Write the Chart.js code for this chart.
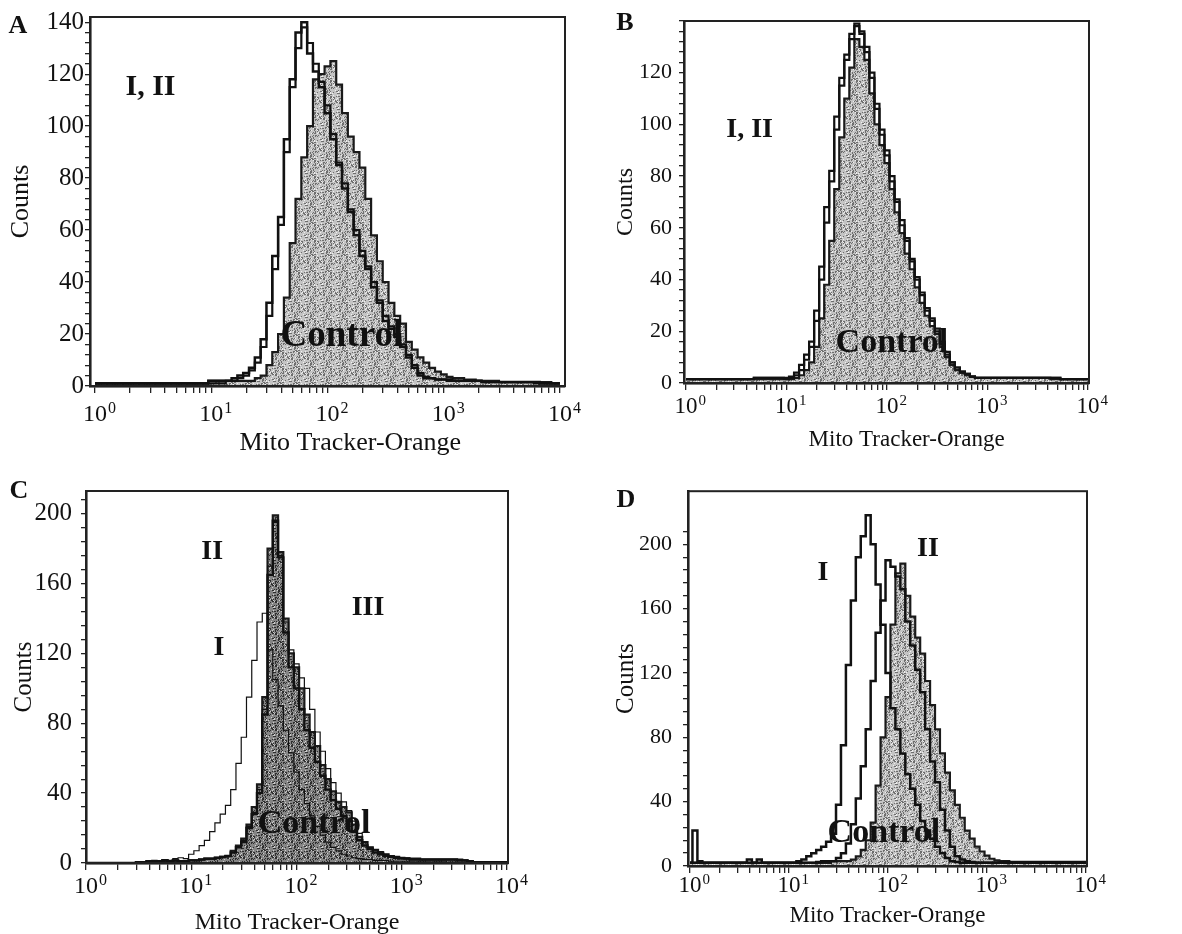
<!DOCTYPE html>
<html>
<head>
<meta charset="utf-8">
<script src="https://cdn.jsdelivr.net/npm/chart.js@4.4.0/dist/chart.umd.min.js"></script>
<style>
  html, body { margin: 0; padding: 0; background: #fff; overflow: hidden; }
  body { width: 1182px; height: 934px; position: relative; }
  canvas { position: absolute; }
</style>
</head>
<body>
<canvas id="chartA" width="590" height="467" style="left:0px;top:0px;width:590px;height:467px"></canvas>
<canvas id="chartB" width="592" height="467" style="left:590px;top:0px;width:592px;height:467px"></canvas>
<canvas id="chartC" width="590" height="480" style="left:0px;top:467px;width:590px;height:480px"></canvas>
<canvas id="chartD" width="592" height="480" style="left:590px;top:467px;width:592px;height:480px"></canvas>
<script>
// channel centres: 20 channels per decade, 10^0 .. 10^4
const channels = [];
for (let k = 0; k <= 80; k++) channels.push(Math.pow(10, k / 20));

// x tick marks 1..9 x 10^n, labels only on decades
const xTicks = [];
for (let d = 0; d < 4; d++) for (let m = 1; m < 10; m++) xTicks.push(m * Math.pow(10, d));
xTicks.push(10000);
const xDecades = [0, 1, 2, 3, 4];

const yTicksAB = [];
for (let v = 0; v <= 140; v += 4) yTicksAB.push(v);
const yTicksCD = [];
for (let v = 0; v <= 208; v += 8) yTicksCD.push(v);
const yLabelsA = [0, 20, 40, 60, 80, 100, 120, 140];
const yLabelsB = [0, 20, 40, 60, 80, 100, 120];
const yLabelsCD = [0, 40, 80, 120, 160, 200];

// ---- counts per channel ----
// panel A
const aI = [1,1,1,1,1,1,1,1,1,1,1,1,1,1,1,1,1,1,1,1,
  2,2,2,2,3,4,5,7,11,18,
  32,50,65,95,118,136,140,128,121,115,
  105,95,85,76,67,58,50,45,38,32,
  25,22,19,15,11,7,4,3,3,2.5,
  2.5,2.5,2,2,2,2,2,1.5,1.5,1.5,
  1.5,1.5,1.5,1.5,1.5,1.5,1.5,1,1,1,1];
const aII = [1,1,1,1,1,1,1,1,1,1,1,1,1,1,1,1,1,1,1,1,
  1,1,1,2,2,3,4,6,9,15,
  27,45,62,90,115,130,138,132,124,117,
  108,97,86,78,68,60,52,46,40,33,
  27,23,20,16,12,8,5,3.5,3,2.5,
  2.5,2,2,2,2,2,2,1.5,1.5,1.5,
  1.5,1.5,1.5,1.5,1.5,1.5,1,1,1,1,1];
const aControl = [1,1,1,1,1,1,1,1,1,1,1,1,1,1,1,1,1,1,1,1,
  2,2,2,2,2,2,2,2,3,4,
  8,13,20,34,55,72,88,100,118,120,
  123,125,116,105,96,90,84,72,58,48,
  40,32,27,24,17,14,11,9,7,5.5,
  4.5,3.5,3,3,2.5,2.5,2,2,2,2,
  1.5,1.5,1.5,1.5,1.5,1.5,1.5,1.5,1.5,1,1];

// panel B
const bI = [1.5,1.5,1.5,1.5,1.5,1.5,1.5,1.5,1.5,1.5,1.5,1.5,1.5,1.5,2,2,2,2,2,2,
  2,2.5,4,7,11,16,28,45,68,82,
  103,118,127,135,139,135,130,118,106,96,
  90,78,70,61,55,47,40,34,28,24,
  21,15,11,8,6,4,3.5,2.5,2,2,
  2,2,2,2,2,2,2,2,2,2,
  2,2,2,2,2,1.5,1.5,1.5,1.5,1.5,1.5];
const bII = [1.5,1.5,1.5,1.5,1.5,1.5,1.5,1.5,1.5,1.5,1.5,1.5,1.5,1.5,2,2,2,2,2,2,
  1.5,2,3,5,9,14,24,40,62,78,
  98,115,125,133,138,136,128,120,108,98,
  88,80,71,63,56,48,41,35,29,25,
  20,16,12,8,6,4.5,3.5,2.5,2,2,
  2,2,2,2,2,2,2,2,2,2,
  2,2,2,2,2,1.5,1.5,1.5,1.5,1.5,1.5];
const bControl = [1.5,1.5,1.5,1.5,1.5,1.5,1.5,1.5,1.5,1.5,1.5,1.5,1.5,1.5,1.5,1.5,1.5,1.5,1.5,1.5,
  1.5,1.5,2,3,5,8,14,25,38,55,
  75,95,110,122,133,130,125,112,100,92,
  85,75,66,58,50,44,37,31,26,22,
  19,14,10,7,5,4,3,2.5,2,2,
  2,2,2,2,2,2,2,2,2,2,
  2,2,2,1.5,1.5,1.5,1.5,1.5,1.5,1.5,1.5];

// panel C
const cI = [0,0,0,0,0,0,0,0,0,0,
  0.5,0.5,1,1.5,1,2,1.5,2.5,3,2.5,
  5,7,10,13,18,23,28,33,42,57,
  72,95,116,138,143,122,105,90,76,63,
  52,42,34,27,21,16,12,9,7,5,
  4,3,2.5,2,2,1.5,1.5,1.5,1,1,
  1,1,1,1,1,1,1,1,1,0.5,
  0.5,0.5,0.5,0.5,0.5,0,0,0,0,0,0];
const cII = [0,0,0,0,0,0,0,0,0,0,
  0.5,0.5,1,1,1,1.5,1,1.5,1,1,
  1.5,1.5,2,2.5,2.5,3,3.5,4,6,9,
  12,20,28,40,85,165,196,175,132,112,
  100,88,76,66,58,50,42,36,31,27,
  24,18,13,10,8,6,5,4,3.5,3,
  2.5,2.5,2,2,2,2,2,2,2,2,
  2,1.5,1.5,1,0.5,0.5,0.5,0.5,0.5,0.5,0.5];
const cIII = [0,0,0,0,0,0,0,0,0,0,
  0.5,0.5,0.5,1,1,1,1,1,1,1,
  1.5,1.5,2,2,2.5,3,3,4,6,9,
  13,21,29,42,88,170,195,176,138,122,
  114,106,100,88,75,64,54,46,40,35,
  30,24,17,12,9,7.5,6.5,5,4,3.5,
  3,3,2.5,2.5,2,2,2,2,2,2,
  2,2,1.5,1,0.5,0.5,0.5,0.5,0.5,0.5,0.5];
const cControl = [0,0,0,0,0,0,0,0,0,0,
  0.5,0.5,1,1,1,1.5,1,1.5,1,1,
  1.5,1.5,2,2.5,2.5,3,3.5,4,7,10,
  14,22,32,45,95,180,199,178,140,120,
  112,100,85,75,67,56,48,41,35,32,
  29,22,15,12,9,7.5,6,5,4,3.5,
  3,2.5,2.5,2.5,2,2,2,2,2,2,
  2,2,1.5,1,0.5,0.5,0.5,0.5,0.5,0.5,0.5];

// panel D
const dI = [2,22,3,2,2,2,2,2,2,2,
  2,2,4,2,4,2,2,2,2,2,
  2,2,3,4,6,8,10,12,15,20,
  38,75,125,165,192,205,218,200,175,150,
  120,98,85,70,57,48,38,28,22,17,
  12,8,5,3,2.5,2,2,2,2,2,
  2,2,2,2,2.5,2.5,2.5,2.5,2.5,2.5,
  2.5,2.5,2.5,2.5,2.5,2.5,2.5,2.5,2.5,2.5,2.5];
const dII = [2,2,2,2,2,2,2,2,2,2,
  2,2,2,2,2,2,2,2,2,2,
  2,2,2,2,2,2,2.5,3,3,3,
  5,8,14,26,42,62,85,115,145,165,
  190,186,180,172,152,137,122,108,85,65,
  52,35,22,12,6,4,3,2.5,2,2,
  2,2,2,2,2,2,2,2,2,2,
  2,2,2,2,2,2,2,2,2,2,2];
const dControl = [2,2,2,2,2,2,2,2,2,2,
  2,2,2,2,2,2,2,2,2,2,
  2,2,2,2,2,2,2,2,2,3,
  3,3,3,4,6,10,16,27,50,80,
  105,150,182,188,168,155,142,132,115,100,
  85,70,58,47,38,30,22,17,12,9,
  6.5,4.5,3.5,3,3,2.5,2.5,2.5,2.5,2.5,
  2.5,2.5,2.5,2.5,2.5,2.5,2.5,2.5,2.5,2.5,2.5];

const serif = '"Liberation Serif", "Times New Roman", serif';

// speckled grey fill like the scanned histogram
function stipple(base, dark, light) {
  const n = 16;
  const c = document.createElement('canvas');
  c.width = n; c.height = n;
  const g = c.getContext('2d');
  g.fillStyle = base;
  g.fillRect(0, 0, n, n);
  for (let i = 0; i < n; i++) {
    for (let j = 0; j < n; j++) {
      const h = (i * i * 7 + j * j * 3 + i * j * 5 + i * 11 + j * 13) % 23;
      if (h < 6) { g.fillStyle = dark; g.fillRect(i, j, 1, 1); }
      else if (h > 19) { g.fillStyle = light; g.fillRect(i, j, 1, 1); }
    }
  }
  return g.createPattern(c, 'repeat');
}
const lightFill = stipple('#c4c4c4', '#6e6e6e', '#efefef');
const darkFill = stipple('#858585', '#2e2e2e', '#cdcdcd');

// frame, decade labels with raised exponent, panel letter and in-plot labels
const decorPlugin = {
  id: 'decor',
  afterDraw(chart, args, opts) {
    const ctx = chart.ctx, a = chart.chartArea;
    const sx = chart.scales.x, sy = chart.scales.y;
    ctx.save();
    ctx.strokeStyle = '#222';
    ctx.lineWidth = 2;
    ctx.strokeRect(a.left, a.top, a.right - a.left, a.bottom - a.top);
    ctx.fillStyle = '#111';

    const s = opts.xTickSize;
    const base = a.bottom + opts.xLabelDrop;
    xDecades.forEach(e => {
      const x = sx.getPixelForValue(Math.pow(10, e));
      ctx.textAlign = 'center';
      ctx.textBaseline = 'alphabetic';
      ctx.font = s + 'px ' + serif;
      const w = ctx.measureText('10').width;
      ctx.fillText('10', x, base);
      ctx.textAlign = 'left';
      ctx.font = Math.round(s * 0.66) + 'px ' + serif;
      ctx.fillText(String(e), x + w / 2 + 1, base - s * 0.33);
    });

    ctx.textAlign = 'center';
    ctx.textBaseline = 'middle';
    ctx.font = 'bold 26px ' + serif;
    ctx.fillText(opts.letter, opts.letterPos[0], opts.letterPos[1]);
    opts.notes.forEach(n => {
      ctx.font = 'bold ' + n.size + 'px ' + serif;
      ctx.fillText(n.text, sx.getPixelForValue(n.x), sy.getPixelForValue(n.y));
    });
    ctx.restore();
  }
};

function lineSet(values, width) {
  return {
    data: channels.map((x, i) => ({ x: x, y: values[i] })),
    borderColor: '#111', borderWidth: width, fill: false,
    stepped: 'middle', pointRadius: 0, borderJoinStyle: 'miter'
  };
}
function controlSet(values, pattern) {
  return {
    data: channels.map((x, i) => ({ x: x, y: values[i] })),
    borderColor: '#1a1a1a', borderWidth: 2.2, fill: 'origin',
    backgroundColor: pattern, stepped: 'middle', pointRadius: 0, borderJoinStyle: 'miter'
  };
}

function makePanel(p) {
  return new Chart(document.getElementById(p.id), {
    type: 'line',
    data: { datasets: p.datasets },
    plugins: [decorPlugin],
    options: {
      responsive: false,
      animation: false,
      events: [],
      layout: { padding: { left: 0, top: p.top, right: p.right, bottom: 0 } },
      plugins: {
        legend: { display: false },
        tooltip: { enabled: false },
        decor: {
          letter: p.letter, letterPos: p.letterPos, notes: p.notes,
          xTickSize: p.xTickSize, xLabelDrop: p.xLabelDrop
        }
      },
      scales: {
        x: {
          type: 'logarithmic',
          min: p.xMin, max: p.xMax,
          afterBuildTicks: ax => { ax.ticks = xTicks.map(v => ({ value: v })); },
          afterFit: ax => { ax.height = p.xAxisH; },
          ticks: { autoSkip: false, maxRotation: 0, minRotation: 0, callback: () => '' },
          grid: { drawOnChartArea: false, drawTicks: true, tickLength: 7, color: '#222', lineWidth: 1.3 },
          border: { display: true, color: '#000', width: 2.5 },
          title: {
            display: true, text: p.xTitle, color: '#111',
            font: { family: serif, size: p.xTitleSize },
            padding: { top: 0, bottom: p.xTitlePad }
          }
        },
        y: {
          type: 'linear',
          min: 0, max: p.yMax,
          afterBuildTicks: ax => { ax.ticks = p.yTicks.map(v => ({ value: v })); },
          afterFit: ax => { ax.width = p.yAxisW; },
          ticks: {
            autoSkip: false, padding: p.yTickPad, color: '#111',
            font: { family: serif, size: p.yTickSize },
            callback: v => p.yLabels.includes(v) ? String(v) : ''
          },
          grid: { drawOnChartArea: false, drawTicks: true, tickLength: 5, color: '#222', lineWidth: 1.3 },
          border: { display: true, color: '#000', width: 2.5 },
          title: {
            display: true, text: 'Counts', color: '#111',
            font: { family: serif, size: p.yTitleSize },
            padding: { top: p.yTitlePad, bottom: 0 }
          }
        }
      }
    }
  });
}

const xTitle = 'Mito Tracker-Orange';

makePanel({
  id: 'chartA', letter: 'A', letterPos: [18, 26],
  datasets: [lineSet(aI, 2.5), lineSet(aII, 2.2), controlSet(aControl, lightFill)],
  notes: [
    { text: 'I, II', x: 3.0, y: 115, size: 30 },
    { text: 'Control', x: 133, y: 19, size: 37 }
  ],
  top: 17, right: 25, yAxisW: 90, xAxisH: 81,
  xMin: Math.pow(10, -0.043), xMax: Math.pow(10, 4.043), yMax: 142,
  yTicks: yTicksAB, yLabels: yLabelsA,
  xTickSize: 24, xLabelDrop: 35, yTickSize: 25, yTickPad: 1,
  xTitle: '       ' + xTitle, xTitleSize: 26, xTitlePad: 8, yTitleSize: 26, yTitlePad: 6
});

makePanel({
  id: 'chartB', letter: 'B', letterPos: [35, 23],
  datasets: [lineSet(bI, 2.2), lineSet(bII, 2.2), controlSet(bControl, lightFill)],
  notes: [
    { text: 'I, II', x: 4.3, y: 98, size: 28 },
    { text: 'Control', x: 112, y: 15.5, size: 34 }
  ],
  top: 21, right: 93, yAxisW: 94, xAxisH: 84,
  xMin: Math.pow(10, -0.02), xMax: Math.pow(10, 4.01), yMax: 140,
  yTicks: yTicksAB, yLabels: yLabelsB,
  xTickSize: 23, xLabelDrop: 30, yTickSize: 22, yTickPad: 7,
  xTitle: '       ' + xTitle, xTitleSize: 23, xTitlePad: 13, yTitleSize: 24, yTitlePad: 21
});

makePanel({
  id: 'chartC', letter: 'C', letterPos: [19, 24],
  datasets: [lineSet(cI, 1.2), lineSet(cIII, 1.2), lineSet(cII, 2.4), controlSet(cControl, darkFill)],
  notes: [
    { text: 'II', x: 15.8, y: 178, size: 28 },
    { text: 'I', x: 18.3, y: 123, size: 28 },
    { text: 'III', x: 478, y: 146, size: 28 },
    { text: 'Control', x: 147, y: 22, size: 34 }
  ],
  top: 23, right: 82, yAxisW: 86, xAxisH: 84,
  xMin: 1, xMax: Math.pow(10, 4.01), yMax: 213,
  yTicks: yTicksCD, yLabels: yLabelsCD,
  xTickSize: 24, xLabelDrop: 30, yTickSize: 25, yTickPad: 9,
  xTitle: xTitle, xTitleSize: 24, xTitlePad: 10, yTitleSize: 25, yTitlePad: 9
});

makePanel({
  id: 'chartD', letter: 'D', letterPos: [36, 33],
  datasets: [lineSet(dI, 2.5), lineSet(dII, 2.5), controlSet(dControl, lightFill)],
  notes: [
    { text: 'I', x: 22, y: 182, size: 28 },
    { text: 'II', x: 253, y: 197, size: 28 },
    { text: 'Control', x: 91, y: 20.5, size: 34 }
  ],
  top: 24, right: 95, yAxisW: 98, xAxisH: 81,
  xMin: Math.pow(10, -0.02), xMax: Math.pow(10, 4.01), yMax: 233,
  yTicks: yTicksCD, yLabels: yLabelsCD,
  xTickSize: 23, xLabelDrop: 26, yTickSize: 22, yTickPad: 11,
  xTitle: xTitle, xTitleSize: 23, xTitlePad: 17, yTitleSize: 25, yTitlePad: 21
});
</script>
</body>
</html>
